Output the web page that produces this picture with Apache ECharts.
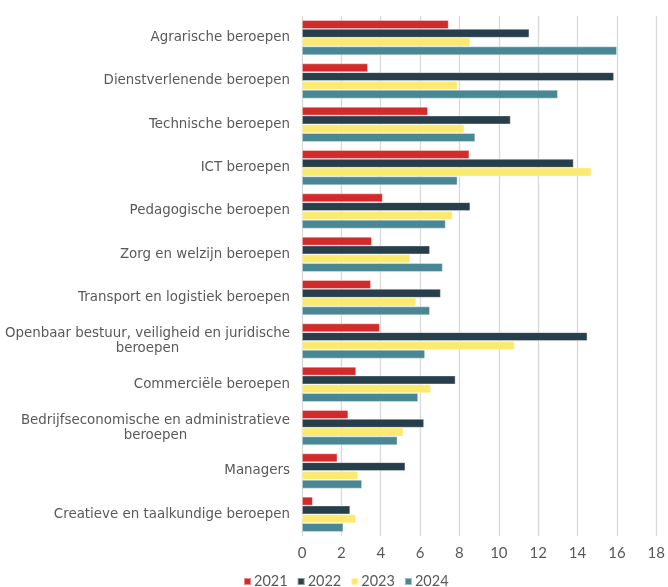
<!DOCTYPE html>
<html>
<head>
<meta charset="utf-8">
<script src="https://cdn.jsdelivr.net/npm/echarts@6/dist/echarts.min.js"></script>
<style>
  html, body { margin: 0; padding: 0; background: #fff; }
  #chart { width: 668px; height: 587px; }
</style>
</head>
<body>
<div id="chart"></div>
<script>
// categorieën (van boven naar beneden)
var categories = [
  'Agrarische beroepen',
  'Dienstverlenende beroepen',
  'Technische beroepen',
  'ICT beroepen',
  'Pedagogische beroepen',
  'Zorg en welzijn beroepen',
  'Transport en logistiek beroepen',
  'Openbaar bestuur, veiligheid en juridische\nberoepen',
  'Commerciële beroepen',
  'Bedrijfseconomische en administratieve\nberoepen',
  'Managers',
  'Creatieve en taalkundige beroepen'
];

var jaren = ['2021', '2022', '2023', '2024'];

var data2021 = [7.45, 3.35, 6.4, 8.5, 4.1, 3.55, 3.5, 3.95, 2.75, 2.35, 1.8, 0.55];
var data2022 = [11.55, 15.85, 10.6, 13.8, 8.55, 6.5, 7.05, 14.5, 7.8, 6.2, 5.25, 2.45];
var data2023 = [8.55, 7.9, 8.25, 14.7, 7.65, 5.5, 5.8, 10.8, 6.55, 5.15, 2.85, 2.75];
var data2024 = [16.0, 13.0, 8.8, 7.9, 7.3, 7.15, 6.5, 6.25, 5.9, 4.85, 3.05, 2.1];

var xTicks = { min: 0, max: 18, interval: 2 };

var kleuren = ['#d32b2b', '#263f4a', '#fce96f', '#4a8794'];

var chart = echarts.init(document.getElementById('chart'));

function maakSerie(naam, waarden, i) {
  return {
    name: naam,
    type: 'bar',
    data: waarden,
    barGap: '0%',
    barCategoryGap: '19%',
    itemStyle: {
      color: kleuren[i],
      borderColor: 'rgba(255,255,255,0.45)',
      borderWidth: 0.8
    }
  };
}

var option = {
  animation: false,
  textStyle: { fontFamily: 'DejaVu Sans' },
  legend: {
    data: jaren,
    left: 238,
    top: 569,
    icon: 'rect',
    itemWidth: 7,
    itemHeight: 7,
    itemGap: 9,
    textStyle: { color: '#595959', fontSize: 14.5, fontFamily: 'Lato', padding: [0, 0, 0, -2] }
  },
  grid: { left: 302, right: 6, top: 16, bottom: 51 },
  xAxis: {
    type: 'value',
    min: xTicks.min,
    max: xTicks.max,
    interval: xTicks.interval,
    axisLine: { show: false },
    axisTick: { show: false },
    axisLabel: { color: '#595959', fontSize: 15, fontFamily: 'Lato', margin: 10 },
    splitLine: { lineStyle: { color: '#d9d9d9', width: 1.3 } }
  },
  yAxis: {
    type: 'category',
    data: categories,
    inverse: true,
    axisLine: { show: false },
    axisTick: { show: false },
    axisLabel: {
      color: '#595959',
      fontSize: 13,
      margin: 12,
      lineHeight: 15,
      formatter: function (v) {
        var delen = v.split('\n');
        if (delen.length > 1) {
          return '{a|' + delen[0] + '}\n{b|' + delen[1] + '}';
        }
        return '{a|' + v + '}';
      },
      rich: {
        a: { align: 'right', color: '#595959', fontSize: 13.4, fontFamily: 'DejaVu Sans', lineHeight: 15 },
        b: { align: 'center', color: '#595959', fontSize: 13.4, fontFamily: 'DejaVu Sans', lineHeight: 15 }
      }
    }
  },
  series: [
    maakSerie(jaren[0], data2021, 0),
    maakSerie(jaren[1], data2022, 1),
    maakSerie(jaren[2], data2023, 2),
    maakSerie(jaren[3], data2024, 3)
  ]
};

chart.setOption(option);
</script>
</body>
</html>
